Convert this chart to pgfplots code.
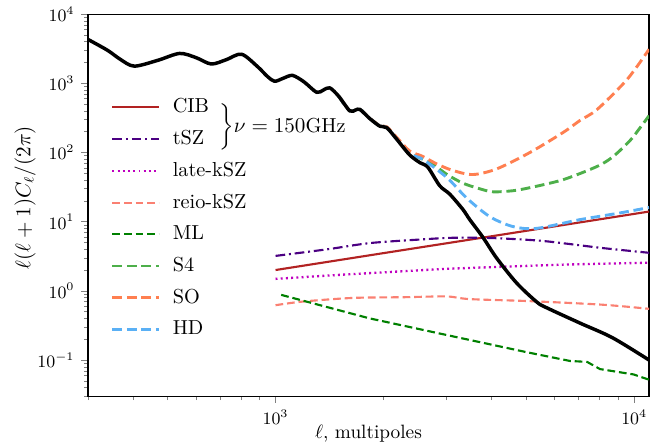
\documentclass[border=0pt]{standalone}
\usepackage{pgfplots}
\pgfplotsset{compat=1.18}
\definecolor{cCIB}{HTML}{B22222}
\definecolor{cTSZ}{HTML}{4B0082}
\definecolor{cLK}{HTML}{BF00BF}
\definecolor{cRK}{HTML}{FA8072}
\definecolor{cML}{HTML}{008000}
\definecolor{cS4}{HTML}{4DAF4A}
\definecolor{cSO}{HTML}{FF7F50}
\definecolor{cHD}{HTML}{5AB0F5}
\begin{document}
\begin{tikzpicture}
\begin{axis}[
  xmode=log, ymode=log,
  scale only axis, width=290.7pt, height=198pt,
  xmin=300, xmax=11000, ymin=0.03, ymax=10000,
  xtick={1000,10000}, ytick={0.1,1,10,100,1000,10000},
  minor xtick={300,400,500,600,700,800,900,2000,3000,4000,5000,6000,7000,8000,9000},
  minor ytick={0.03,0.04,0.05,0.06,0.07,0.08,0.09,0.2,0.3,0.4,0.5,0.6,0.7,0.8,0.9,2,3,4,5,6,7,8,9,20,30,40,50,60,70,80,90,200,300,400,500,600,700,800,900,2000,3000,4000,5000,6000,7000,8000,9000},
  tick align=outside, tick pos=left,
  major tick length=3.5pt, minor tick length=2pt,
  tick label style={font=\small},
  axis line style={line width=0.6pt},
  xlabel={$\ell$, multipoles},
  xlabel style={yshift=6.5pt},
  ylabel={$\ell(\ell+1)C_\ell/(2\pi)$},
  ylabel style={font=\fontsize{10.5}{12}\selectfont, at={(ticklabel cs:0.52)}},
  ylabel shift=-6pt,
  legend style={draw=none, fill=none, at={(axis description cs:0.03,0.80)}, anchor=north west,
    font=\fontsize{10.5}{12}\selectfont, row sep=3.6pt},
  legend cell align=left,
  legend image code/.code={\draw[#1] (0pt,0pt) -- (24pt,0pt); \path (28.5pt,0pt);},
  every axis plot/.append style={line join=round},
]
% CIB
\addplot[color=cCIB, line width=1.1pt] coordinates {(1000,2.0) (2000,3.51) (4000,6.15) (8000,10.8) (11000,14.0)};
\addlegendentry{CIB}
% tSZ
\addplot[color=cTSZ, line width=1.1pt, smooth, dash pattern=on 5pt off 2pt on 1pt off 2pt] coordinates {(1000,3.2) (1400,4.0) (1830,4.9) (2500,5.5) (3120,5.85) (4000,5.8) (5360,5.35) (6500,4.8) (8180,4.15) (11000,3.55)};
\addlegendentry{tSZ}
% late-kSZ
\addplot[color=cLK, line width=1.2pt, smooth, dash pattern=on 1pt off 1.7pt] coordinates {(1000,1.49) (1500,1.7) (2265,1.92) (3000,2.08) (4300,2.23) (6500,2.4) (11000,2.55)};
\addlegendentry{late-kSZ}
% reio-kSZ
\addplot[color=cRK, line width=1.1pt, smooth, dash pattern=on 4pt off 2pt] coordinates {(1000,0.62) (1190,0.70) (1640,0.79) (2300,0.81) (3000,0.83) (3480,0.76) (5120,0.71) (8180,0.63) (11000,0.55)};
\addlegendentry{reio-kSZ}
% ML
\addplot[color=cML, line width=1.1pt, dash pattern=on 4pt off 2pt] coordinates {(1037,0.875) (1245,0.68) (1830,0.40) (3000,0.23) (5010,0.13) (6620,0.097) (7390,0.094) (8030,0.074) (9950,0.062) (11000,0.052)};
\addlegendentry{ML}
% S4
\addplot[color=cS4, line width=1.5pt, smooth, dash pattern=on 5pt off 2.5pt] coordinates {(1500,650) (1610,400) (1718,420) (1830,313) (1953,243) (2043,231) (2178,160) (2366,98) (2690,72) (3010,48) (3330,36) (3700,30) (4040,27) (4590,28) (5120,31) (6340,40.5) (7890,63) (8750,88) (9750,150) (10400,230) (11000,340)};
\addlegendentry{S4}
% SO
\addplot[color=cSO, line width=1.5pt, smooth, dash pattern=on 5pt off 2.5pt] coordinates {(1500,650) (1610,400) (1718,420) (1830,315) (1953,245) (2043,235) (2178,165) (2366,105) (2570,88) (2820,68) (3120,55) (3550,48) (4140,58) (5120,100) (6340,195) (7060,290) (7890,420) (9560,1140) (11000,3100)};
\addlegendentry{SO}
% HD
\addplot[color=cHD, line width=1.5pt, smooth, dash pattern=on 5pt off 2.5pt] coordinates {(1500,650) (1610,400) (1718,420) (1830,312) (1953,242) (2043,230) (2178,156) (2366,95) (2570,80) (3010,43) (3410,22) (3960,11.8) (4590,8.5) (5350,8.0) (7060,10.7) (9000,13.2) (11000,16)};
\addlegendentry{HD}
% CMB
\addplot[black, line width=1.8pt, smooth, forget plot] coordinates {(300,4300) (340,3000) (370,2200) (404,1770) (470,2150) (540,2700) (600,2350) (662,1900) (730,2200) (804,2630) (890,1750) (950,1250) (994,1070) (1050,1180) (1115,1300) (1200,1050) (1302,740) (1360,800) (1416,860) (1500,650) (1610,400) (1670,410) (1718,420) (1830,310) (1953,240) (2043,228) (2178,155) (2366,92) (2530,71) (2660,61) (2870,33) (3060,25) (3330,15) (3480,10.7) (3790,5.9) (4130,3.0) (4700,1.3) (5350,0.69) (5700,0.57) (7080,0.34) (8700,0.21) (11000,0.1)};
\node[anchor=west, font=\fontsize{10.5}{12}\selectfont] at (axis description cs:0.222,0.704) {$\bigg\}\nu=150$GHz};
\end{axis}
\pgfresetboundingbox
\path[use as bounding box] (-45.6pt,-25.9pt) rectangle (302.6pt,205.3pt);
\end{tikzpicture}
\end{document}
